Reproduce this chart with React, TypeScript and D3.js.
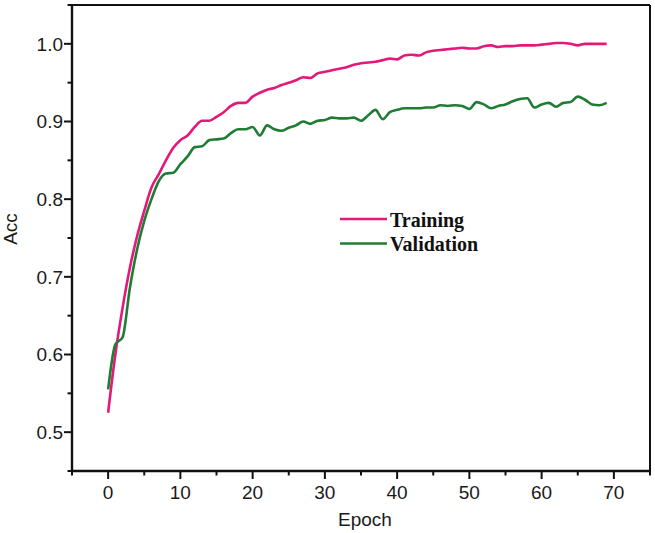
import React from "react";
import * as d3 from "d3";

const epochs: number[] = Array.from({ length: 70 }, (_, i) => i);

const training: number[] = [
  0.525, 0.600, 0.660, 0.711, 0.752, 0.785, 0.815, 0.832, 0.850, 0.866,
  0.876, 0.882, 0.893, 0.901, 0.901, 0.906, 0.912, 0.920, 0.924, 0.924,
  0.932, 0.937, 0.941, 0.943, 0.947, 0.950, 0.953, 0.957, 0.956, 0.962,
  0.964, 0.966, 0.968, 0.970, 0.973, 0.975, 0.976, 0.977, 0.979, 0.981,
  0.980, 0.985, 0.986, 0.985, 0.989, 0.991, 0.992, 0.993, 0.994, 0.995,
  0.994, 0.994, 0.997, 0.998, 0.996, 0.997, 0.997, 0.998, 0.998, 0.998,
  0.999, 1.000, 1.001, 1.001, 1.000, 0.998, 1.000, 1.000, 1.000, 1.000,
];

const validation: number[] = [
  0.555, 0.613, 0.622, 0.685, 0.735, 0.772, 0.800, 0.823, 0.833, 0.834,
  0.845, 0.855, 0.867, 0.868, 0.876, 0.877, 0.878, 0.885, 0.890, 0.890,
  0.893, 0.882, 0.895, 0.890, 0.888, 0.892, 0.895, 0.900, 0.897, 0.901,
  0.902, 0.905, 0.904, 0.904, 0.905, 0.901, 0.908, 0.915, 0.903, 0.912,
  0.915, 0.917, 0.917, 0.917, 0.918, 0.918, 0.921, 0.920, 0.921, 0.920,
  0.916, 0.925, 0.922, 0.917, 0.920, 0.922, 0.926, 0.929, 0.930, 0.918,
  0.922, 0.924, 0.919, 0.924, 0.925, 0.932, 0.928, 0.922, 0.921, 0.924,
];

const xTicks: number[] = [0, 10, 20, 30, 40, 50, 60, 70];
const xMinorTicks: number[] = [-5, 5, 15, 25, 35, 45, 55, 65, 75];
const yTicks: number[] = [0.5, 0.6, 0.7, 0.8, 0.9, 1.0];
const yMinorTicks: number[] = [0.45, 0.55, 0.65, 0.75, 0.85, 0.95, 1.05];

const seriesNames = ["Training", "Validation"];
const seriesColors = ["#e3197a", "#1e7d32"];

export default function App() {
  const W = 655;
  const H = 533;
  const left = 72;
  const right = 650;
  const top = 5;
  const bottom = 471;

  const x = d3.scaleLinear().domain([-5, 75]).range([left, right]);
  const y = d3.scaleLinear().domain([0.45, 1.05]).range([bottom, top]);

  const line = d3
    .line<number>()
    .x((_, i) => x(epochs[i]))
    .y((d) => y(d))
    .curve(d3.curveMonotoneX);

  const series = [training, validation];
  const tickFont = "'Liberation Sans', Arial, Helvetica, sans-serif";

  return (
    <svg
      width={W}
      height={H}
      style={{ position: "absolute", left: 0, top: 0, background: "#fff" }}
    >
      <rect x={0} y={0} width={W} height={H} fill="#fff" />
      {series.map((s, k) => (
        <path
          key={k}
          d={line(s) || ""}
          fill="none"
          stroke={seriesColors[k]}
          strokeWidth={2.6}
          strokeLinejoin="round"
        />
      ))}
      {/* frame */}
      <line x1={left} x2={right} y1={top} y2={top} stroke="#111" strokeWidth={2} />
      <line x1={right} x2={right} y1={top} y2={bottom} stroke="#111" strokeWidth={2} />
      <line x1={left} x2={left} y1={top - 1} y2={bottom + 1} stroke="#111" strokeWidth={2.4} />
      <line x1={left - 1} x2={right + 1} y1={bottom} y2={bottom} stroke="#111" strokeWidth={2.4} />
      {/* x ticks */}
      {xTicks.map((t) => (
        <g key={"xt" + t}>
          <line x1={x(t)} x2={x(t)} y1={bottom} y2={bottom + 8} stroke="#111" strokeWidth={2} />
          <text
            x={x(t)}
            y={499}
            textAnchor="middle"
            fontFamily={tickFont}
            fontSize={19}
            fill="#1a1a1a"
          >
            {t}
          </text>
        </g>
      ))}
      {xMinorTicks.map((t) => (
        <line key={"xm" + t} x1={x(t)} x2={x(t)} y1={bottom} y2={bottom + 4.5} stroke="#111" strokeWidth={2} />
      ))}
      {/* y ticks */}
      {yTicks.map((t) => (
        <g key={"yt" + t}>
          <line x1={left - 8} x2={left} y1={y(t)} y2={y(t)} stroke="#111" strokeWidth={2} />
          <text
            x={left - 9}
            y={y(t)}
            dy="0.36em"
            textAnchor="end"
            fontFamily={tickFont}
            fontSize={19}
            fill="#1a1a1a"
          >
            {d3.format(".1f")(t)}
          </text>
        </g>
      ))}
      {yMinorTicks.map((t) => (
        <line key={"ym" + t} x1={left - 4.5} x2={left} y1={y(t)} y2={y(t)} stroke="#111" strokeWidth={2} />
      ))}
      {/* axis titles */}
      <text
        x={(left + right) / 2 + 4}
        y={526}
        textAnchor="middle"
        fontFamily={tickFont}
        fontSize={19}
        fill="#1a1a1a"
      >
        Epoch
      </text>
      <text
        transform="translate(17,229) rotate(-90)"
        textAnchor="middle"
        fontFamily={tickFont}
        fontSize={19}
        fill="#1a1a1a"
      >
        Acc
      </text>
      {/* legend */}
      {seriesNames.map((name, k) => (
        <g key={name}>
          <line
            x1={340}
            x2={387}
            y1={219 + k * 24.5}
            y2={219 + k * 24.5}
            stroke={seriesColors[k]}
            strokeWidth={2.6}
          />
          <text
            x={390}
            y={226.5 + k * 24.5}
            fontFamily="'Liberation Serif', 'Times New Roman', serif"
            fontWeight="bold"
            fontSize={20}
            fill="#111"
          >
            {name}
          </text>
        </g>
      ))}
    </svg>
  );
}
